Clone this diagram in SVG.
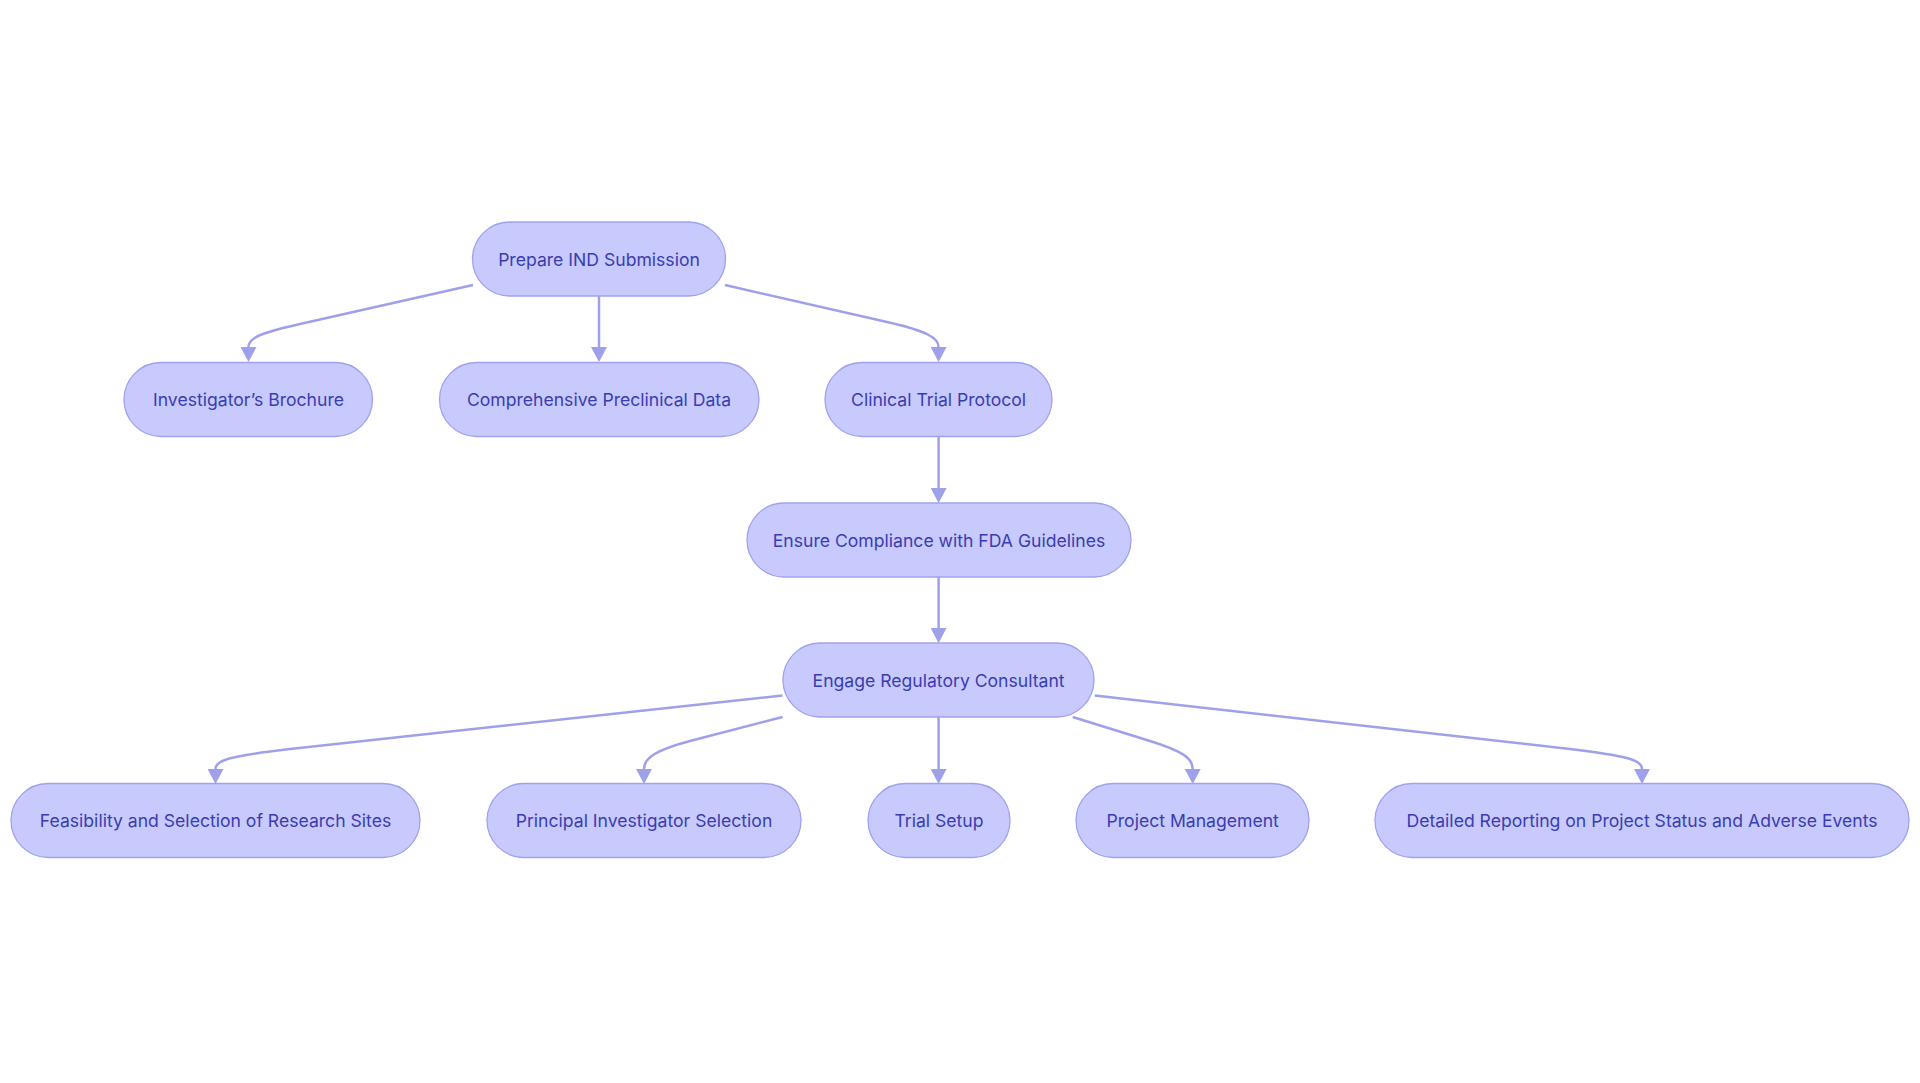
<svg xmlns="http://www.w3.org/2000/svg" width="1920" height="1083" viewBox="0 0 1920 1083">
<defs>
<style>
.node rect{fill:#c8cafe;stroke:#9fa2ee;stroke-width:1.3}
.node text{font-family:Inter,"Noto Sans","Liberation Sans",sans-serif;font-size:17.6px;fill:#3a3db2;text-anchor:middle;dominant-baseline:central}
.edge{fill:none;stroke:#9ea1ea;stroke-width:2.5;marker-end:url(#arrow)}
</style>
<marker id="arrow" markerUnits="userSpaceOnUse" markerWidth="15" markerHeight="16" viewBox="0 0 15 16" refX="0" refY="8" orient="auto">
<path d="M0,0 L15,8 L0,16 z" fill="#9ea1ea"/>
</marker>
</defs>
<rect width="1920" height="1083" fill="#ffffff"/>
<g id="connectors">
<path class="edge" d="M473,285 L300,324 C260,333 248.5,338 248.5,347"/>
<path class="edge" d="M599,296 L599,347"/>
<path class="edge" d="M725,285 L887,322 C927,331 938.6,338 938.6,347"/>
<path class="edge" d="M938.6,437 L938.6,488"/>
<path class="edge" d="M938.6,577 L938.6,628"/>
<path class="edge" d="M782.5,695.5 L290,749 C230,756 215.5,760 215.5,769"/>
<path class="edge" d="M782.5,717 L690,741 C656,750 644,758 644,769"/>
<path class="edge" d="M938.6,717 L938.6,769"/>
<path class="edge" d="M1072.7,717 L1150,741 C1182,751 1192.7,758 1192.7,769"/>
<path class="edge" d="M1094.7,695.5 L1570,749 C1628,756 1642,760 1642,769"/>
</g>
<g id="n-prepare" class="node"><rect x="472.5" y="222" width="253" height="74" rx="37"/><text x="599" y="259">Prepare IND Submission</text></g>
<g id="n-brochure" class="node"><rect x="124" y="362.5" width="248.5" height="74" rx="37"/><text x="248.5" y="399.5">Investigator’s Brochure</text></g>
<g id="n-preclinical" class="node"><rect x="439.5" y="362.5" width="319.5" height="74" rx="37"/><text x="599" y="399.5">Comprehensive Preclinical Data</text></g>
<g id="n-protocol" class="node"><rect x="825" y="362.5" width="227" height="74" rx="37"/><text x="938.6" y="399.5">Clinical Trial Protocol</text></g>
<g id="n-compliance" class="node"><rect x="747" y="503" width="384" height="74" rx="37"/><text x="939" y="540">Ensure Compliance with FDA Guidelines</text></g>
<g id="n-consultant" class="node"><rect x="783" y="643" width="311" height="74" rx="37"/><text x="938.6" y="680">Engage Regulatory Consultant</text></g>
<g id="n-sites" class="node"><rect x="11" y="783.5" width="409" height="74" rx="37"/><text x="215.5" y="820.5">Feasibility and Selection of Research Sites</text></g>
<g id="n-pi" class="node"><rect x="487" y="783.5" width="314" height="74" rx="37"/><text x="644" y="820.5">Principal Investigator Selection</text></g>
<g id="n-setup" class="node"><rect x="868" y="783.5" width="142" height="74" rx="37"/><text x="939" y="820.5">Trial Setup</text></g>
<g id="n-pm" class="node"><rect x="1076" y="783.5" width="233" height="74" rx="37"/><text x="1192.7" y="820.5">Project Management</text></g>
<g id="n-reporting" class="node"><rect x="1375" y="783.5" width="534" height="74" rx="37"/><text x="1642" y="820.5">Detailed Reporting on Project Status and Adverse Events</text></g>
</svg>
